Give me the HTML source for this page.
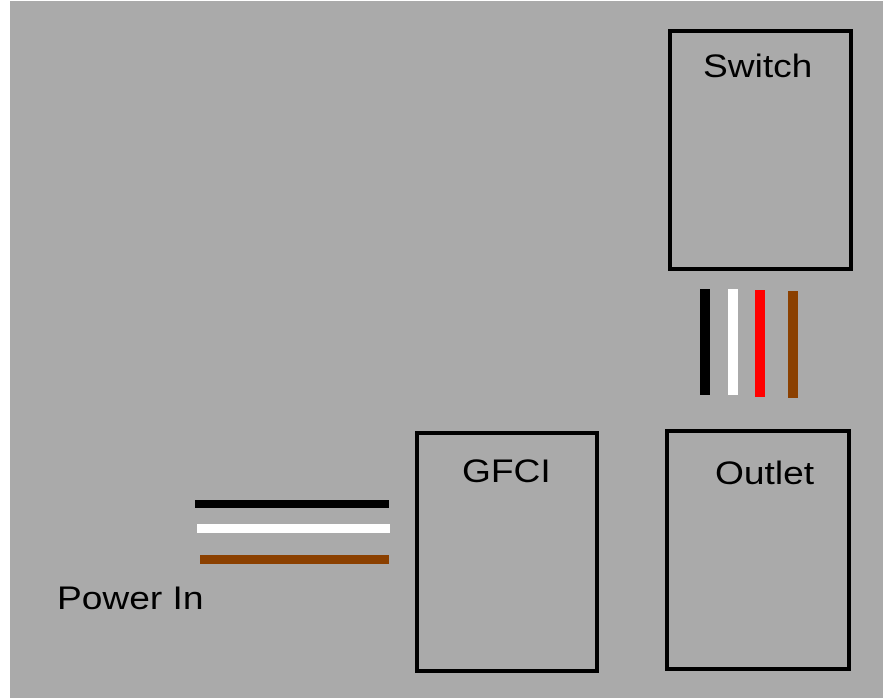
<!DOCTYPE html>
<html><head><style>
body{margin:0;width:883px;height:698px;background:#fff;position:relative;overflow:hidden;font-family:"Liberation Sans",sans-serif}
.bg{position:absolute;left:10px;top:1px;width:873px;height:697px;background:#aaaaaa}
.box{position:absolute;border:4px solid #000;box-sizing:border-box}
.t{position:absolute;font-size:32px;color:#000;transform:scaleX(1.16);transform-origin:left top;white-space:nowrap}
.w{position:absolute}
</style></head><body>
<div class="bg"></div>
<div class="box" style="left:668px;top:29px;width:185px;height:242px"></div>
<div class="t" style="left:703px;top:48px">Switch</div>
<div class="box" style="left:415px;top:431px;width:184px;height:242px"></div>
<div class="t" style="left:462px;top:453px">GFCI</div>
<div class="box" style="left:665px;top:429px;width:186px;height:242px"></div>
<div class="t" style="left:715px;top:455px">Outlet</div>
<div class="t" style="left:57px;top:580px">Power In</div>
<div class="w" style="left:700px;top:289px;width:10px;height:106px;background:#000"></div>
<div class="w" style="left:728px;top:289px;width:10px;height:106px;background:#fff"></div>
<div class="w" style="left:755px;top:290px;width:10px;height:107px;background:#f00"></div>
<div class="w" style="left:788px;top:291px;width:10px;height:107px;background:#8b4000"></div>
<div class="w" style="left:195px;top:500px;width:194px;height:8px;background:#000"></div>
<div class="w" style="left:197px;top:524px;width:193px;height:9px;background:#fff"></div>
<div class="w" style="left:200px;top:555px;width:189px;height:9px;background:#8b4000"></div>
</body></html>
